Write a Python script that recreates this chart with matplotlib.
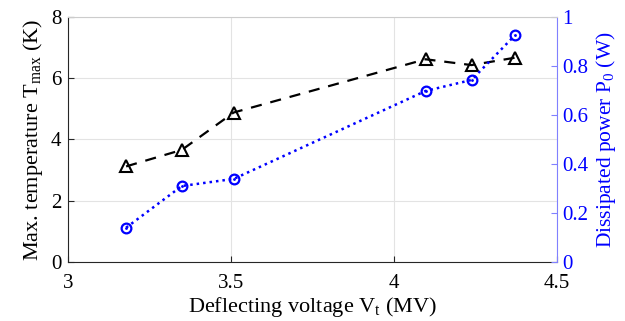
import matplotlib
matplotlib.use('Agg')
from matplotlib import pyplot as plt

plt.rcParams['font.family'] = 'Liberation Serif'
plt.rcParams['mathtext.fontset'] = 'custom'
plt.rcParams['mathtext.rm'] = 'Liberation Serif'

# deflecting voltage (MV)
voltage = [3.178, 3.349, 3.508, 4.097, 4.238, 4.371]
# max temperature (K)
t_max = [3.12, 3.66, 4.88, 6.62, 6.43, 6.67]
# dissipated power (W)
p0 = [0.14, 0.31, 0.339, 0.698, 0.743, 0.925]

fig = plt.figure(figsize=(6.25, 3.21), dpi=100)
ax = fig.add_axes([0.109, 0.184, 0.782, 0.763])
ax2 = ax.twinx()

ax.plot(voltage, t_max, color='black', linestyle=(0, (5, 4)), linewidth=1.6,
        marker='^', markersize=8, markerfacecolor='none', markeredgewidth=1.5)
ax2.plot(voltage, p0, color='blue', linestyle=(0, (1, 1.6)), linewidth=1.8,
         marker='o', markersize=7, markerfacecolor='none', markeredgewidth=1.6)
ax2.plot(voltage, p0, color='blue', linestyle='none', marker='.', markersize=2)

ax.set_xlim(3, 4.5)
ax.set_ylim(0, 8)
ax2.set_ylim(0, 1)
ax.set_xticks([3, 3.5, 4, 4.5])
ax.set_xticklabels(['3', '3.5', '4', '4.5'])
ax.set_yticks([0, 2, 4, 6, 8])
ax2.set_yticks([0, 0.2, 0.4, 0.6, 0.8, 1])
ax2.set_yticklabels(['0', '0.2', '0.4', '0.6', '0.8', '1'])

ax.grid(True, color='#e3e3e3', linewidth=0.8)
ax.set_axisbelow(True)

for a in (ax, ax2):
    a.tick_params(direction='in', labelsize=15, length=4)
ax.tick_params(colors='#262626', labelcolor='black')
ax.tick_params(axis='x', pad=9)
ax.tick_params(axis='y', pad=5)
ax2.tick_params(axis='y', colors='#8080ff', labelcolor='blue', pad=4)

for s in ('top', 'right'):
    ax.spines[s].set_visible(False)
ax.spines['left'].set_color('#262626')
ax.spines['bottom'].set_color('#262626')
ax2.spines['top'].set_color('#cccccc')
ax2.spines['right'].set_color('#8080ff')
ax2.spines['left'].set_visible(False)
ax2.spines['bottom'].set_visible(False)

ax.set_xlabel(r'Deflecting voltage V$_\mathregular{t}$ (MV)', fontsize=16, labelpad=1)
ax.set_ylabel(r'Max. temperature T$_\mathregular{max}$ (K)', fontsize=16, labelpad=4)
ax2.set_ylabel(r'Dissipated power P$_\mathregular{0}$ (W)', fontsize=15.5, color='blue', labelpad=4)

fig.savefig('out.png', dpi=100)
